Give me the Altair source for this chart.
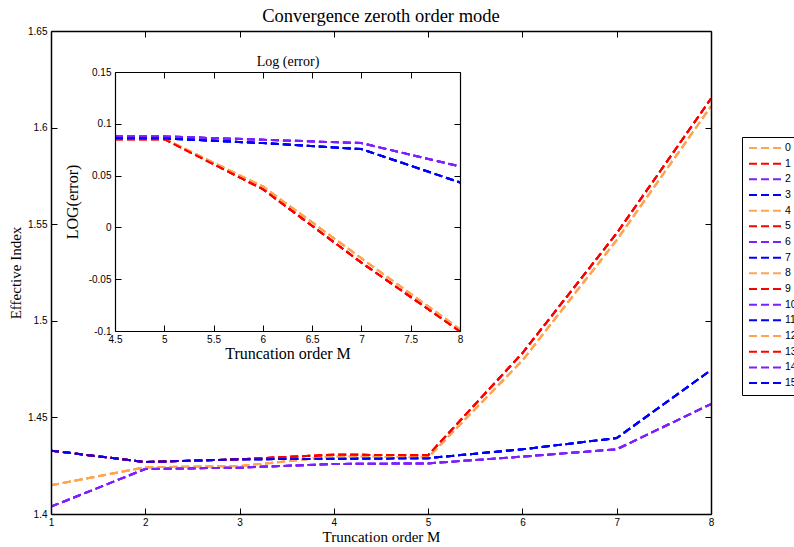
import altair as alt
import pandas as pd

# ---------------- data ----------------
M = [1, 2, 3, 4, 5, 6, 7, 8]
orange_main = [1.4149, 1.4242, 1.4248, 1.4298, 1.4293, 1.4795, 1.5418, 1.6110]
red_main = [1.4328, 1.4269, 1.4283, 1.4307, 1.4304, 1.4833, 1.5453, 1.6150]
purple_main = [1.4038, 1.4233, 1.4240, 1.4259, 1.4262, 1.4297, 1.4335, 1.4569]
blue_main = [1.4328, 1.4269, 1.4283, 1.4286, 1.4289, 1.4335, 1.4393, 1.4745]

M_inset = [4, 5, 6, 7, 8]
orange_inset = [0.0855, 0.0855, 0.0395, -0.0298, -0.0984]
red_inset = [0.0852, 0.0852, 0.0369, -0.0340, -0.1003]
purple_inset = [0.0878, 0.0878, 0.0846, 0.0814, 0.0588]
blue_inset = [0.0862, 0.0859, 0.0814, 0.0756, 0.0434]

series_labels = [str(i) for i in range(16)]
palette = ["#FFA552", "#FF0000", "#7F1FFF", "#0000FF"]

x_ticks = [1, 2, 3, 4, 5, 6, 7, 8]
y_ticks = [1.4, 1.45, 1.5, 1.55, 1.6, 1.65]
xin_ticks = [4.5, 5, 5.5, 6, 6.5, 7, 7.5, 8]
yin_ticks = [-0.1, -0.05, 0, 0.05, 0.1, 0.15]

main_curves = [orange_main, red_main, purple_main, blue_main]
inset_curves = [orange_inset, red_inset, purple_inset, blue_inset]

rows = []
for i, s in enumerate(series_labels):
    for m, v in zip(M, main_curves[i % 4]):
        rows.append({"M": m, "value": v, "series": s})
df_main = pd.DataFrame(rows)

rows = []
for i, s in enumerate(series_labels):
    for m, v in zip(M_inset, inset_curves[i % 4]):
        rows.append({"M": m, "err": v, "series": s})
df_inset = pd.DataFrame(rows)

colors16 = [palette[i % 4] for i in range(16)]

# ---------------- layout ----------------
W, H = 660, 483
IN_X0, IN_X1 = 64, 409
IN_YT, IN_YB = 41, 300
tick_in = alt.ExprRef(expr="-6")

SERIF = "Liberation Serif"
SANS = "Liberation Sans"

def ax(**kw):
    base = dict(
        grid=False, tickSize=tick_in, tickColor="black", tickWidth=1,
        domainColor="black", labelFont=SANS, labelFontSize=10, labelColor="black",
        labelFlush=False, labelOverlap=False,
        titleFont=SERIF, titleFontWeight="normal", titleColor="black", zindex=1,
    )
    base.update(kw)
    return alt.Axis(**base)

x_main = alt.Scale(domain=[1, 8], nice=False, zero=False)
y_main = alt.Scale(domain=[1.4, 1.65], nice=False, zero=False)
x_in = alt.Scale(domain=[4.5, 8], range=[IN_X0, IN_X1], nice=False, zero=False, clamp=True)
y_in = alt.Scale(domain=[-0.1, 0.15], range=[IN_YB, IN_YT], nice=False, zero=False)

color = alt.Color(
    "series:N",
    scale=alt.Scale(domain=series_labels, range=colors16),
    legend=alt.Legend(
        orient="none", legendX=691, legendY=106, direction="vertical", title=None,
        symbolType="stroke", symbolSize=1024, symbolStrokeWidth=2, symbolDash=[8, 4],
        clipHeight=14, rowPadding=1.67, padding=4, symbolOffset=2, labelOffset=3,
        strokeColor="black", fillColor="white", cornerRadius=0,
        labelFont=SANS, labelFontSize=10.5, labelColor="black",
    ),
)

main = alt.Chart(df_main).mark_line(strokeWidth=2, strokeDash=[8, 4], clip=True).encode(
    x=alt.X("M:Q", scale=x_main,
            axis=ax(orient="bottom", values=x_ticks, format="d", title="Truncation order M",
                    titleFontSize=15, labelPadding=9, titlePadding=2, domainWidth=1.5)),
    y=alt.Y("value:Q", scale=y_main,
            axis=ax(orient="left", values=y_ticks, format="~g", title="Effective Index",
                    titleFontSize=15, labelPadding=10, titlePadding=4, domainWidth=1.5)),
    color=color,
)

main_mirror = alt.Chart(df_main).mark_line(opacity=0).encode(
    x=alt.X("M:Q", scale=x_main,
            axis=ax(orient="top", values=x_ticks, labels=False, title=None, domainWidth=1.5)),
    y=alt.Y("value:Q", scale=y_main,
            axis=ax(orient="right", values=y_ticks, labels=False, title=None, domainWidth=1.5)),
)

lbl_expr = "'' + round(datum.value*100)/100"

inset = alt.Chart(df_inset).mark_line(strokeWidth=2, strokeDash=[8, 4]).encode(
    x=alt.X("M:Q", scale=x_in,
            axis=ax(orient="bottom", offset=-(H - IN_YB), values=xin_ticks, format="~g",
                    title="Truncation order M", titleFontSize=16, labelPadding=9,
                    titlePadding=1, domainWidth=1.2)),
    y=alt.Y("err:Q", scale=y_in,
            axis=ax(orient="left", offset=-IN_X0, values=yin_ticks, labelExpr=lbl_expr,
                    title="LOG(error)", titleFontSize=16, labelPadding=10,
                    titlePadding=8, domainWidth=1.2)),
    color=alt.Color("series:N", legend=None),
)

inset_mirror = alt.Chart(df_inset).mark_line(opacity=0).encode(
    x=alt.X("M:Q", scale=x_in,
            axis=ax(orient="top", offset=-IN_YT, values=xin_ticks, labels=False,
                    title="Log (error)", titleFontSize=14, titlePadding=3, domainWidth=1.2)),
    y=alt.Y("err:Q", scale=y_in,
            axis=ax(orient="right", offset=-(W - IN_X1), values=yin_ticks, labels=False,
                    title=None, domainWidth=1.2)),
)

chart = alt.layer(main, main_mirror, inset, inset_mirror).resolve_scale(
    x="independent", y="independent"
).resolve_axis(
    x="independent", y="independent"
).properties(
    width=W, height=H,
    autosize=alt.AutoSizeParams(type="none"),
    padding={"left": 51, "top": 31, "right": 83, "bottom": 33},
    title=alt.Title("Convergence zeroth order mode", font=SERIF, fontSize=18.5,
                    fontWeight="normal", color="black", offset=1, anchor="middle"),
).configure_view(stroke=None).configure(background="white")

chart.save("out.html", embed_options={"renderer": "svg", "actions": False})
